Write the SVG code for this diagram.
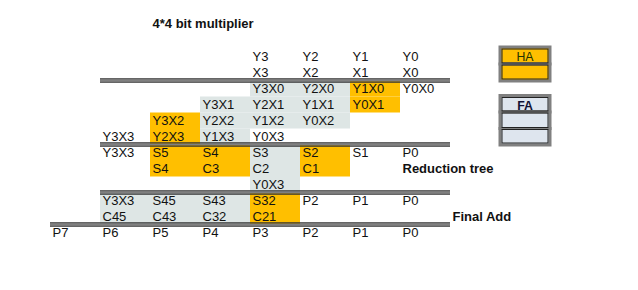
<svg xmlns="http://www.w3.org/2000/svg" width="638" height="290" viewBox="0 0 638 290">
<style>
text{font-family:"Liberation Sans",Arial,sans-serif;font-size:13px;fill:#111}
.b{font-weight:bold}
.o{fill:#FFBF00}
.g{fill:#DEE6E5}
.dk{stroke:#333;stroke-width:1.2}
.md{stroke:#808080;stroke-width:2}
.bx{stroke:#808080;stroke-width:3}
.bi{fill:none;stroke:#222;stroke-width:1}
</style>
<rect width="638" height="290" fill="#fff"/>
<g id="cells">
<rect class="g" x="250" y="80.5" width="100" height="16"/>
<rect class="o" x="350" y="80.5" width="50" height="16"/>
<rect class="g" x="200" y="96.5" width="150" height="16"/>
<rect class="o" x="350" y="96.5" width="50" height="16"/>
<rect class="o" x="150" y="112.5" width="50" height="32"/>
<rect class="g" x="200" y="112.5" width="150" height="16"/>
<rect class="g" x="200" y="128.5" width="50" height="16"/>
<rect class="o" x="150" y="144.5" width="100" height="32"/>
<rect class="g" x="250" y="144.5" width="50" height="48"/>
<rect class="o" x="300" y="144.5" width="50" height="32"/>
<rect class="g" x="100" y="192.5" width="150" height="32"/>
<rect class="o" x="250" y="192.5" width="50" height="32"/>
</g>
<g id="connectors">
<g id="rule1"><line x1="100" y1="80.5" x2="450" y2="80.5" class="md"/><line x1="100" y1="78.8" x2="450" y2="78.8" class="dk"/><line x1="100" y1="82.2" x2="450" y2="82.2" class="dk"/></g>
<g id="rule2"><line x1="100" y1="144.5" x2="450" y2="144.5" class="md"/><line x1="100" y1="142.8" x2="450" y2="142.8" class="dk"/><line x1="100" y1="146.2" x2="450" y2="146.2" class="dk"/></g>
<g id="rule3"><line x1="100" y1="192.5" x2="450" y2="192.5" class="md"/><line x1="100" y1="190.8" x2="450" y2="190.8" class="dk"/><line x1="100" y1="194.2" x2="450" y2="194.2" class="dk"/></g>
<g id="rule4"><line x1="50" y1="224.5" x2="450" y2="224.5" class="md"/><line x1="50" y1="222.8" x2="450" y2="222.8" class="dk"/><line x1="50" y1="226.2" x2="450" y2="226.2" class="dk"/></g>
</g>
<g id="title"><text class="b" x="152.5" y="28">4*4 bit multiplier</text></g>
<g id="operands">
<text x="252.5" y="61">Y3</text><text x="302.5" y="61">Y2</text><text x="352.5" y="61">Y1</text><text x="402.5" y="61">Y0</text>
<text x="252.5" y="77">X3</text><text x="302.5" y="77">X2</text><text x="352.5" y="77">X1</text><text x="402.5" y="77">X0</text>
</g>
<g id="partials">
<text x="252.5" y="93">Y3X0</text><text x="302.5" y="93">Y2X0</text><text x="352.5" y="93">Y1X0</text><text x="402.5" y="93">Y0X0</text>
<text x="202.5" y="109">Y3X1</text><text x="252.5" y="109">Y2X1</text><text x="302.5" y="109">Y1X1</text><text x="352.5" y="109">Y0X1</text>
<text x="152.5" y="125">Y3X2</text><text x="202.5" y="125">Y2X2</text><text x="252.5" y="125">Y1X2</text><text x="302.5" y="125">Y0X2</text>
<text x="102.5" y="141">Y3X3</text><text x="152.5" y="141">Y2X3</text><text x="202.5" y="141">Y1X3</text><text x="252.5" y="141">Y0X3</text>
</g>
<g id="reduction">
<text x="102.5" y="157">Y3X3</text><text x="152.5" y="157">S5</text><text x="202.5" y="157">S4</text><text x="252.5" y="157">S3</text><text x="302.5" y="157">S2</text><text x="352.5" y="157">S1</text><text x="402.5" y="157">P0</text>
<text x="152.5" y="173">S4</text><text x="202.5" y="173">C3</text><text x="252.5" y="173">C2</text><text x="302.5" y="173">C1</text>
<text class="b" x="402.5" y="173">Reduction tree</text>
<text x="252.5" y="189">Y0X3</text>
</g>
<g id="finaladd">
<text x="102.5" y="205">Y3X3</text><text x="152.5" y="205">S45</text><text x="202.5" y="205">S43</text><text x="252.5" y="205">S32</text><text x="302.5" y="205">P2</text><text x="352.5" y="205">P1</text><text x="402.5" y="205">P0</text>
<text x="102.5" y="221">C45</text><text x="152.5" y="221">C43</text><text x="202.5" y="221">C32</text><text x="252.5" y="221">C21</text>
<text class="b" x="452.5" y="221">Final Add</text>
</g>
<g id="product">
<text x="52.5" y="237">P7</text><text x="102.5" y="237">P6</text><text x="152.5" y="237">P5</text><text x="202.5" y="237">P4</text><text x="252.5" y="237">P3</text><text x="302.5" y="237">P2</text><text x="352.5" y="237">P1</text><text x="402.5" y="237">P0</text>
</g>
<g id="legend-ha">
<rect class="o bx" x="500" y="47" width="50" height="17"/>
<rect class="o bx" x="500" y="64" width="50" height="17"/>
<rect class="bi" x="502" y="49" width="46" height="14"/>
<rect class="bi" x="502" y="65" width="46" height="14"/>
<text x="525" y="60.5" text-anchor="middle" style="font-size:12.3px;fill:#223300">HA</text>
</g>
<g id="legend-fa">
<rect class="bx" style="fill:#DEE5EE" x="500" y="95.5" width="50" height="16.5"/>
<rect class="bx" style="fill:#DEE5EE" x="500" y="112" width="50" height="16.5"/>
<rect class="bx" style="fill:#DEE5EE" x="500" y="128.5" width="50" height="16.5"/>
<rect class="bi" x="502" y="97.5" width="46" height="13.5"/>
<rect class="bi" x="502" y="113" width="46" height="14.5"/>
<rect class="bi" x="502" y="129.5" width="46" height="13.5"/>
<text class="b" x="525" y="109.5" text-anchor="middle" style="font-size:12.3px;fill:#111133">FA</text>
</g>
</svg>
